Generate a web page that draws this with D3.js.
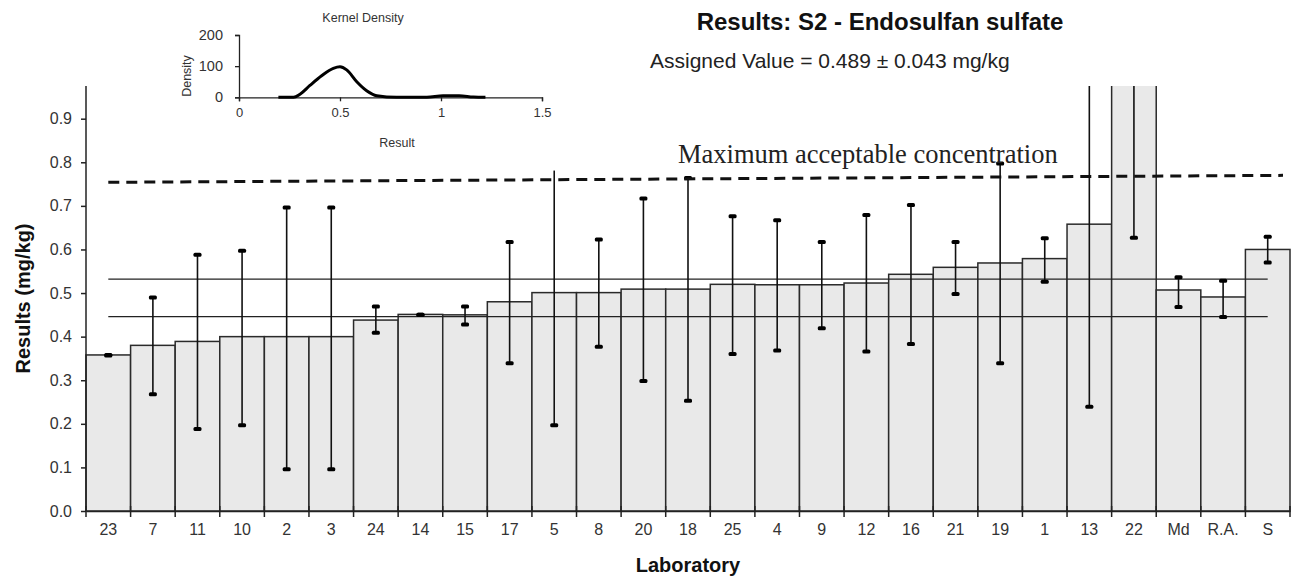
<!DOCTYPE html>
<html>
<head>
<meta charset="utf-8">
<script src="https://cdn.jsdelivr.net/npm/d3@7"></script>
<style>
  body { margin: 0; background: #fff; }
  svg { display: block; }
  .axis text { font-family: Arial, "Liberation Sans", sans-serif; fill: #333; }
</style>
</head>
<body>
<div class="svg-container"></div>
<script>
// Data
var labs = ["23","7","11","10","2","3","24","14","15","17","5","8","20","18","25","4","9","12","16","21","19","1","13","22","Md","R.A.","S"];
var results = [0.358,0.380,0.389,0.400,0.400,0.400,0.438,0.451,0.450,0.480,0.501,0.501,0.509,0.509,0.520,0.519,0.519,0.523,0.543,0.559,0.569,0.579,0.658,1.07,0.507,0.491,0.600];
var lower = [0.357,0.268,0.188,0.197,0.096,0.096,0.409,0.450,0.428,0.339,0.197,0.377,0.298,0.253,0.360,0.368,0.419,0.366,0.383,0.498,0.339,0.526,0.239,0.627,0.468,0.445,0.570];
var upper = [0.358,0.490,0.588,0.597,0.696,0.696,0.469,0.450,0.469,0.617,0.781,0.623,0.717,0.764,0.676,0.667,0.617,0.679,0.702,0.617,0.797,0.626,1.077,1.51,0.536,0.528,0.629];
var noTopCap = ["5"];
var yTicks = [0,0.1,0.2,0.3,0.4,0.5,0.6,0.7,0.8,0.9];
var assigned = 0.489, uncert = 0.043;
var maxConc = [0.754, 0.770];   // dashed line, left end / right end

// kernel density inset
var kdX = [0.195,0.27,0.302,0.351,0.409,0.467,0.5,0.533,0.583,0.632,0.682,0.78,0.93,1.01,1.09,1.16,1.22];
var kdY = [0,0,10,38,69,93,98,88,50,21,5,0,0,5,5,1,0];
var kdXTicks = [0,0.5,1,1.5];
var kdYTicks = [0,100,200];

var W = 1295, H = 577;
var margin = {top: 86, right: 5, bottom: 66, left: 86};

var svg = d3.select(".svg-container").append("svg")
    .attr("width", W)
    .attr("height", H);

svg.append("rect").attr("width", W).attr("height", H).attr("fill", "#fff");

var data = labs.map(function(l, i) {
    return {lab: l, v: results[i], lo: lower[i], hi: upper[i]};
});

// Scales
var x = d3.scaleBand().domain(labs).range([margin.left, W - margin.right]).padding(0);
var y = d3.scaleLinear().domain([0, 0.975]).range([H - margin.bottom, margin.top]);
var bw = x.bandwidth();

svg.append("defs").append("clipPath").attr("id", "plotclip")
  .append("rect")
    .attr("x", margin.left - 10)
    .attr("y", y(0.975))
    .attr("width", W)
    .attr("height", y(0) - y(0.975) + 10);

var plot = svg.append("g").attr("clip-path", "url(#plotclip)");

// Bars
plot.selectAll("rect.bar")
    .data(data)
    .enter().append("rect")
    .attr("class", "bar")
    .attr("x", function(d) { return x(d.lab); })
    .attr("y", function(d) { return y(d.v); })
    .attr("width", bw)
    .attr("height", function(d) { return y(0) - y(d.v); })
    .attr("fill", "#e9e9e9")
    .attr("stroke", "#2a2a2a")
    .attr("stroke-width", 1.5);

// Assigned value +/- uncertainty lines
var first = x(labs[0]) + bw / 2, last = x(labs[labs.length - 1]) + bw / 2;
[assigned + uncert, assigned - uncert].forEach(function(v) {
    plot.append("line")
        .attr("x1", first).attr("x2", last)
        .attr("y1", y(v)).attr("y2", y(v))
        .attr("stroke", "#222").attr("stroke-width", 1.4);
});

// Error bars
plot.selectAll("line.err")
    .data(data)
    .enter().append("line")
    .attr("class", "err")
    .attr("x1", function(d) { return x(d.lab) + bw / 2; })
    .attr("x2", function(d) { return x(d.lab) + bw / 2; })
    .attr("y1", function(d) { return y(d.lo); })
    .attr("y2", function(d) { return y(d.hi); })
    .attr("stroke", "#111").attr("stroke-width", 1.6);

var caps = [];
data.forEach(function(d) {
    caps.push({lab: d.lab, v: d.lo});
    if (noTopCap.indexOf(d.lab) < 0) caps.push({lab: d.lab, v: d.hi});
});
plot.selectAll("rect.cap")
    .data(caps)
    .enter().append("rect")
    .attr("class", "cap")
    .attr("x", function(d) { return x(d.lab) + bw / 2 - 4; })
    .attr("y", function(d) { return y(d.v) - 2; })
    .attr("width", 8).attr("height", 4)
    .attr("rx", 1.5)
    .attr("fill", "#000");

// Maximum acceptable concentration
plot.append("line")
    .attr("x1", first).attr("x2", W - margin.right - 7)
    .attr("y1", y(maxConc[0])).attr("y2", y(maxConc[1]))
    .attr("stroke", "#111")
    .attr("stroke-width", 3)
    .attr("stroke-dasharray", "11,7");

svg.append("text")
    .attr("x", 678).attr("y", 163)
    .style("font-family", "'Times New Roman', 'Liberation Serif', serif")
    .style("font-size", "26.5px")
    .style("fill", "#222")
    .text("Maximum acceptable concentration");

// Axes
var yaxis = d3.axisLeft(y).tickValues(yTicks).tickSize(5).tickPadding(9)
    .tickFormat(d3.format(".1f"));
var gy = svg.append("g").attr("class", "axis")
    .attr("transform", "translate(" + margin.left + ",0)")
    .call(yaxis);
gy.select(".domain").attr("d", "M0," + y(0.975) + "V" + y(0)).attr("stroke", "#222").attr("stroke-width", 1.5);
gy.selectAll(".tick line").attr("stroke", "#222").attr("stroke-width", 1.5);
gy.selectAll("text").style("font-size", "16px");

var xaxis = d3.axisBottom(x).tickSize(0).tickPadding(13);
var gx = svg.append("g").attr("class", "axis")
    .attr("transform", "translate(0," + y(0) + ")")
    .call(xaxis);
gx.select(".domain").attr("stroke", "#222").attr("stroke-width", 1.5);
gx.selectAll("text").style("font-size", "16px");

// boundary ticks on x axis
var bounds = labs.map(function(l) { return x(l); }).concat([x(labs[labs.length - 1]) + bw]);
gx.selectAll("line.bt")
    .data(bounds)
    .enter().append("line")
    .attr("class", "bt")
    .attr("x1", function(d) { return d; }).attr("x2", function(d) { return d; })
    .attr("y1", -5).attr("y2", 6)
    .attr("stroke", "#222").attr("stroke-width", 1.5);

// Axis titles
svg.append("text")
    .attr("transform", "translate(30," + ((y(0) + y(0.975)) / 2) + ") rotate(-90)")
    .attr("text-anchor", "middle")
    .style("font-family", "Arial, 'Liberation Sans', sans-serif")
    .style("font-weight", "bold").style("font-size", "20px").style("fill", "#111")
    .text("Results (mg/kg)");

svg.append("text")
    .attr("x", 688).attr("y", 572)
    .attr("text-anchor", "middle")
    .style("font-family", "Arial, 'Liberation Sans', sans-serif")
    .style("font-weight", "bold").style("font-size", "20px").style("fill", "#111")
    .text("Laboratory");

// Titles
svg.append("text")
    .attr("x", 880).attr("y", 30)
    .attr("text-anchor", "middle")
    .style("font-family", "Arial, 'Liberation Sans', sans-serif")
    .style("font-weight", "bold").style("font-size", "24px").style("fill", "#111")
    .text("Results: S2 - Endosulfan sulfate");

svg.append("text")
    .attr("x", 650).attr("y", 68)
    .style("font-family", "Arial, 'Liberation Sans', sans-serif")
    .style("font-size", "21px").style("fill", "#222")
    .text("Assigned Value = 0.489 \u00b1 0.043 mg/kg");

// Kernel density inset
var kx = d3.scaleLinear().domain([0, 1.5]).range([239, 542]);
var ky = d3.scaleLinear().domain([0, 200]).range([97.3, 35]);
var inset = svg.append("g");

var kxa = inset.append("g").attr("class", "axis")
    .attr("transform", "translate(0," + ky(0) + ")")
    .call(d3.axisBottom(kx).tickValues(kdXTicks).tickSize(4).tickPadding(6).tickFormat(d3.format("")));
kxa.selectAll("text").style("font-size", "13px");

var kya = inset.append("g").attr("class", "axis")
    .attr("transform", "translate(" + kx(0) + ",0)")
    .call(d3.axisLeft(ky).tickValues(kdYTicks).tickSize(4).tickPadding(12).tickFormat(d3.format("")));
kya.selectAll("text").style("font-size", "14.5px");
inset.selectAll(".domain, .tick line").attr("stroke", "#222").attr("stroke-width", 1.3);

var kline = d3.line()
    .x(function(d) { return kx(d[0]); })
    .y(function(d) { return ky(d[1]); })
    .curve(d3.curveMonotoneX);
inset.append("path")
    .datum(kdX.map(function(v, i) { return [v, kdY[i]]; }))
    .attr("d", kline)
    .attr("fill", "none")
    .attr("stroke", "#000")
    .attr("stroke-width", 3);

inset.append("text")
    .attr("x", 363).attr("y", 22).attr("text-anchor", "middle")
    .style("font-family", "Arial, 'Liberation Sans', sans-serif")
    .style("font-size", "12.5px").style("fill", "#333")
    .text("Kernel Density");
inset.append("text")
    .attr("x", 397).attr("y", 147).attr("text-anchor", "middle")
    .style("font-family", "Arial, 'Liberation Sans', sans-serif")
    .style("font-size", "12.5px").style("fill", "#333")
    .text("Result");
inset.append("text")
    .attr("transform", "translate(191,76) rotate(-90)").attr("text-anchor", "middle")
    .style("font-family", "Arial, 'Liberation Sans', sans-serif")
    .style("font-size", "12.5px").style("fill", "#333")
    .text("Density");
</script>
</body>
</html>
